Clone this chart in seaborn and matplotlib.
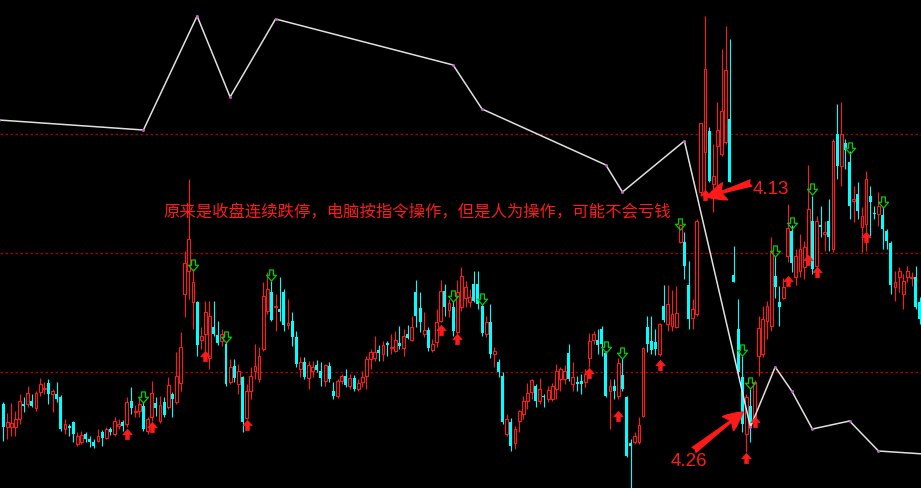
import numpy as np
import matplotlib
matplotlib.use("Agg")
import matplotlib.pyplot as plt
import seaborn as sns
from matplotlib.path import Path

sns.set_style("dark", {"axes.facecolor": "black", "figure.facecolor": "black"})
plt.rcParams["font.family"] = ["Noto Sans CJK SC", "DejaVu Sans"]

# candle levels (0 = top of window, 489 = bottom)
o = [405, 428, 428, 428, 420, 405, 405, 402, 409, 393,
     390, 384, 395, 395, 398, 430, 427, 423, 445, 443,
     435, 440, 443, 442, 433, 439, 430, 435, 427, 423,
     425, 402, 413, 412, 407, 432, 418, 404, 422, 403,
     408, 395, 403, 384, 295, 272, 303, 303, 341, 335,
     359, 328, 336, 342, 345, 383, 367, 385, 378, 419,
     392, 372, 380, 350, 312, 293, 308, 310, 293, 326,
     322, 338, 370, 363, 379, 372, 366, 372, 382, 367,
     392, 397, 382, 377, 387, 379, 390, 383, 377, 360,
     359, 351, 355, 344, 349, 352, 344, 349, 335, 341,
     293, 309, 335, 331, 351, 343, 322, 292, 311, 308,
     333, 308, 299, 303, 285, 285, 307, 335, 323, 355,
     363, 377, 435, 423, 444, 422, 415, 402, 393, 387,
     402, 397, 400, 400, 390, 380, 380, 354, 385, 383,
     382, 383, 359, 341, 341, 330, 354, 392, 387, 397,
     376, 398, 444, 443, 443, 417, 328, 342, 343, 355,
     307, 325, 327, 328, 243, 243, 286, 319, 315, 193,
     153, 132, 185, 147, 155, 143, 120, 276, 330, 378,
     435, 407, 422, 357, 355, 322, 327, 277, 303, 299,
     257, 232, 278, 272, 268, 260, 222, 267, 226, 235,
     222, 250, 135, 167, 144, 163, 202, 195, 228, 225,
     197, 214, 215, 216, 232, 244, 288, 278, 295, 278,
     279, 278, 303]
c = [428, 423, 424, 420, 402, 407, 394, 407, 394, 385,
     389, 395, 392, 400, 430, 425, 429, 435, 437, 436,
     440, 443, 447, 437, 439, 430, 433, 422, 425, 427,
     403, 409, 412, 405, 430, 420, 394, 409, 406, 416,
     386, 400, 377, 348, 264, 240, 283, 346, 337, 313,
     317, 335, 344, 335, 385, 368, 379, 372, 423, 392,
     377, 367, 357, 297, 290, 321, 307, 313, 326, 324,
     338, 365, 363, 378, 366, 368, 371, 379, 366, 380,
     397, 382, 377, 386, 379, 390, 384, 378, 360, 353,
     353, 354, 346, 346, 348, 341, 347, 337, 339, 328,
     317, 323, 331, 349, 345, 323, 292, 308, 304, 332,
     293, 277, 288, 298, 302, 305, 334, 323, 355, 352,
     373, 423, 420, 447, 430, 412, 402, 394, 381, 402,
     390, 398, 391, 387, 372, 370, 372, 380, 378, 385,
     385, 375, 342, 335, 346, 345, 397, 387, 392, 364,
     390, 457, 447, 437, 426, 349, 345, 351, 350, 325,
     321, 305, 315, 314, 226, 267, 320, 310, 222, 124,
     70, 182, 177, 131, 112, 71, 183, 283, 373, 425,
     398, 425, 383, 329, 320, 307, 253, 288, 308, 288,
     229, 264, 257, 250, 248, 210, 270, 222, 228, 233,
     238, 142, 167, 135, 151, 207, 200, 212, 217, 180,
     203, 215, 207, 230, 242, 286, 283, 272, 282, 272,
     278, 308, 320]
h = [403, 414, 404, 412, 395, 398, 387, 395, 392, 379,
     383, 380, 390, 383, 396, 420, 425, 422, 433, 432,
     433, 437, 440, 430, 431, 428, 428, 418, 420, 421,
     398, 388, 406, 399, 403, 418, 382, 398, 397, 398,
     378, 393, 353, 333, 252, 180, 270, 302, 328, 302,
     302, 302, 322, 330, 343, 360, 360, 365, 377, 385,
     368, 345, 348, 283, 273, 282, 295, 278, 290, 300,
     313, 332, 358, 358, 362, 362, 361, 363, 365, 363,
     383, 380, 375, 370, 375, 376, 380, 372, 357, 350,
     337, 346, 342, 342, 335, 332, 327, 330, 326, 317,
     281, 293, 313, 328, 340, 310, 281, 285, 300, 302,
     281, 268, 282, 290, 272, 272, 305, 317, 305, 348,
     360, 373, 415, 419, 427, 411, 397, 384, 380, 385,
     379, 395, 387, 384, 365, 368, 366, 345, 363, 377,
     375, 370, 334, 332, 330, 327, 352, 380, 380, 359,
     359, 397, 440, 433, 418, 348, 317, 317, 330, 324,
     286, 286, 291, 287, 225, 233, 262, 300, 220, 124,
     17, 128, 145, 103, 50, 27, 40, 247, 300, 357,
     395, 390, 381, 317, 307, 302, 238, 257, 287, 279,
     205, 226, 250, 235, 242, 166, 197, 217, 207, 222,
     200, 140, 105, 103, 140, 152, 187, 183, 208, 172,
     187, 207, 193, 208, 230, 242, 272, 268, 275, 267,
     273, 267, 298]
l = [442, 440, 437, 437, 425, 413, 408, 408, 412, 397,
     395, 405, 413, 403, 432, 435, 437, 443, 447, 445,
     443, 448, 449, 443, 447, 440, 436, 437, 430, 432,
     428, 415, 418, 418, 432, 435, 422, 417, 424, 418,
     410, 418, 405, 392, 318, 300, 330, 357, 350, 360,
     370, 337, 346, 347, 387, 385, 383, 395, 433, 420,
     400, 380, 383, 352, 315, 322, 332, 322, 332, 330,
     347, 368, 378, 380, 390, 378, 373, 387, 387, 383,
     400, 399, 385, 388, 390, 392, 392, 388, 390, 370,
     362, 362, 362, 357, 355, 353, 350, 357, 340, 342,
     328, 333, 338, 352, 353, 348, 323, 317, 318, 337,
     335, 312, 308, 308, 303, 310, 337, 338, 359, 368,
     378, 425, 437, 452, 450, 433, 420, 410, 400, 408,
     405, 408, 403, 402, 400, 392, 385, 382, 392, 392,
     395, 388, 368, 345, 355, 357, 398, 430, 400, 400,
     392, 458, 489, 445, 445, 418, 353, 355, 356, 357,
     323, 332, 332, 329, 244, 280, 330, 330, 317, 197,
     197, 183, 213, 187, 157, 145, 183, 283, 375, 433,
     453, 443, 428, 377, 358, 340, 332, 299, 327, 300,
     263, 273, 286, 278, 280, 262, 275, 268, 238, 252,
     252, 253, 180, 187, 170, 220, 223, 220, 253, 252,
     237, 220, 227, 250, 250, 295, 302, 293, 310, 283,
     287, 310, 325]

# zigzag indicator vertices (candle index, level)
zz_idx = [-1, 34, 47, 55, 66, 109, 116, 146, 150, 165, 181, 187, 191, 196, 205, 212, 223]
zz_y = [121, 131, 17, 98, 20, 66, 110, 166, 193, 142, 428, 368, 392, 430, 422, 452, 455]

# signal arrows
dn_idx = [34, 46, 54, 65, 109, 116, 146, 150, 164, 179, 181, 187, 191, 196, 205, 213]
dn_y = [398, 266, 338, 276, 297, 300, 348, 354, 225, 351, 384, 252, 224, 190, 149, 203]
up_idx = [30, 36, 49, 59, 106, 110, 142, 149, 159, 170, 180, 182, 190, 195, 197, 209]
up_y = [435, 428, 357, 426, 331, 340, 374, 417, 366, 196, 459, 423, 282, 261, 273, 238]

levels = [135, 254, 373]

note = "原来是收盘连续跌停，电脑按指令操作，但是人为操作，可能不会亏钱"
date1 = "4.13"
date2 = "4.26"

RED = "#ff1a1a"
CYAN = "#00ffff"


def to_price(v):
    return (489 - np.asarray(v, dtype=float)) / 100


O, H, L, C = map(to_price, (o, h, l, c))
x = np.arange(len(O))
up = C >= O

fig = plt.figure(figsize=(9.21, 4.89), dpi=100)
ax = fig.add_axes([0, 0, 1, 1])
ax.set_facecolor("black")

for lv in levels:
    ax.axhline(to_price(lv), color="#b00000", lw=0.9, ls=(0, (2, 2)), zorder=1)

# wicks
ax.vlines(x[up], L[up], H[up], color=RED, lw=0.8, zorder=2)
ax.vlines(x[~up], L[~up], H[~up], color=CYAN, lw=0.8, zorder=2)
# bodies: hollow red for up, filled cyan for down
ax.bar(x[up], np.maximum(C[up] - O[up], 0.01), bottom=O[up], width=0.68,
       facecolor="black", edgecolor=RED, linewidth=0.8, zorder=3)
ax.bar(x[~up], np.maximum(O[~up] - C[~up], 0.015), bottom=C[~up], width=0.72,
       color=CYAN, linewidth=0, zorder=3)

# zigzag line
sns.lineplot(x=zz_idx, y=to_price(zz_y), ax=ax, color="#e0e0e0", lw=1.1,
             estimator=None, sort=False, zorder=5)
ax.plot(zz_idx, to_price(zz_y), ls="none", marker="o", ms=1.1,
        color="#c060c0", zorder=6)

# arrow markers
dn_arrow = Path([(-0.17, 0.5), (0.17, 0.5), (0.17, 0.02), (0.45, 0.02),
                 (0, -0.5), (-0.45, 0.02), (-0.17, 0.02), (-0.17, 0.5)],
                closed=True)
up_arrow = Path([(px, -py) for px, py in dn_arrow.vertices], closed=True)
ax.plot(dn_idx, to_price(dn_y), ls="none", marker=dn_arrow, ms=8,
        mfc="none", mec="#00d000", mew=0.9, zorder=7)
ax.plot(up_idx, to_price(up_y), ls="none", marker=up_arrow, ms=7.5,
        mfc=RED, mec=RED, mew=0.5, zorder=7)

ax.set_xlim(-0.73, 222.3)
ax.set_ylim(0, 4.89)
ax.axis("off")

# annotations (figure pixel positions)
W, Hp = 921, 489
fig.text(163 / W, 1 - 213 / Hp, note, color=RED, fontsize=11.8,
         ha="left", va="center")
fig.text(753 / W, 1 - 189 / Hp, date1, color=RED, fontsize=13.5,
         family=["Liberation Sans", "DejaVu Sans"], ha="left", va="center")
fig.text(671 / W, 1 - 462 / Hp, date2, color=RED, fontsize=13.5,
         family=["Liberation Sans", "DejaVu Sans"], ha="left", va="center")

arrow_kw = dict(arrowstyle="fancy,head_length=0.85,head_width=0.8,tail_width=0.28",
                color=RED, mutation_scale=16, shrinkA=0, shrinkB=0)
ax.annotate("", xy=(707 / W, 1 - 198 / Hp), xytext=(751 / W, 1 - 184 / Hp),
            xycoords="figure fraction", textcoords="figure fraction",
            arrowprops=arrow_kw)
ax.annotate("", xy=(743 / W, 1 - 413 / Hp), xytext=(694 / W, 1 - 451 / Hp),
            xycoords="figure fraction", textcoords="figure fraction",
            arrowprops=arrow_kw)

fig.savefig("out.png", dpi=100, facecolor="black")
